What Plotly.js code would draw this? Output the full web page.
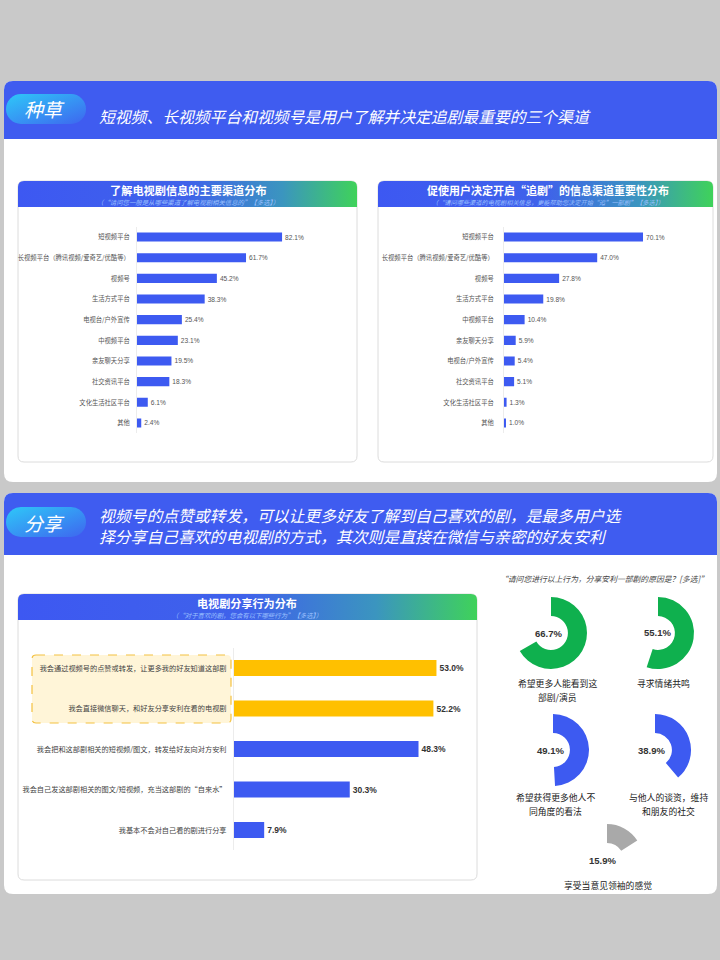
<!DOCTYPE html>
<html><head><meta charset="utf-8">
<script src="https://cdn.plot.ly/plotly-3.0.1.min.js"></script>
<style>html,body{margin:0;padding:0;background:#c9c9c9;}#chart{width:720px;height:960px;}</style>
</head><body><div id="chart"></div>
<script>
// ---------- DATA ----------
const section1Tag = '种草';
const section1Title = '短视频、长视频平台和视频号是用户了解并决定追剧最重要的三个渠道';
const section2Tag = '分享';
const section2Title = ['视频号的点赞或转发，可以让更多好友了解到自己喜欢的剧，是最多用户选', '择分享自己喜欢的电视剧的方式，其次则是直接在微信与亲密的好友安利'];

const chart1Title = '了解电视剧信息的主要渠道分布';
const chart1Sub = '（“请问您一般是从哪些渠道了解电视剧相关信息的”【多选】）';
const channelCats = ['短视频平台','长视频平台（腾讯视频/爱奇艺/优酷等）','视频号','生活方式平台','电视台/户外宣传','中视频平台','亲友聊天分享','社交资讯平台','文化生活社区平台','其他'];
const channelShare = [82.1,61.7,45.2,38.3,25.4,23.1,19.5,18.3,6.1,2.4];

const chart2Title = '促使用户决定开启“追剧”的信息渠道重要性分布';
const chart2Sub = '（“请问哪些渠道的电视剧相关信息，更能帮助您决定开始“追”一部剧”【多选】）';
const decideCats = ['短视频平台','长视频平台（腾讯视频/爱奇艺/优酷等）','视频号','生活方式平台','中视频平台','亲友聊天分享','电视台/户外宣传','社交资讯平台','文化生活社区平台','其他'];
const decideShare = [70.1,47.0,27.8,19.8,10.4,5.9,5.4,5.1,1.3,1.0];

const chart3Title = '电视剧分享行为分布';
const chart3Sub = '（“对于喜欢的剧，您会有以下哪些行为”【多选】）';
const shareCats = ['我会通过视频号的点赞或转发，让更多我的好友知道这部剧','我会直接微信聊天，和好友分享安利在看的电视剧','我会把和这部剧相关的短视频/图文，转发给好友向对方安利','我会自己发这部剧相关的图文/短视频，充当这部剧的“自来水”','我基本不会对自己看的剧进行分享'];
const shareShare = [53.0,52.2,48.3,30.3,7.9];
const shareHighlighted = [true,true,false,false,false];

const reasonQuestion = '“请问您进行以上行为，分享安利一部剧的原因是？[多选]”';
const reasonLabels = ['希望更多人能看到这\n部剧/演员','寻求情绪共鸣','希望获得更多他人不\n同角度的看法','与他人的谈资，维持\n和朋友的社交','享受当意见领袖的感觉'];
const reasonShare = [66.7,55.1,49.1,38.9,15.9];

// ---------- STYLE / LAYOUT HELPERS ----------
const W = 720, H = 960;
const X = p => p / W;
const Y = p => 1 - p / H;
const CJK = '"Noto Sans CJK SC", "Noto Sans", sans-serif';
const LAT = '"Liberation Sans", Arial, sans-serif';
const BLUE = '#3d5af1', GOLD = '#ffc000', GREEN = '#0fb04e', GREY = '#a9a9a9';
const reasonColors = [GREEN, GREEN, BLUE, BLUE, GREY];

function rr(x0, y0, x1, y1, r, topOnly) {
  const rb = topOnly ? 0 : r;
  let p = `M${X(x0 + r)},${Y(y0)} L${X(x1 - r)},${Y(y0)} Q${X(x1)},${Y(y0)} ${X(x1)},${Y(y0 + r)} `;
  p += `L${X(x1)},${Y(y1 - rb)} ` + (rb ? `Q${X(x1)},${Y(y1)} ${X(x1 - rb)},${Y(y1)} ` : '');
  p += `L${X(x0 + rb)},${Y(y1)} ` + (rb ? `Q${X(x0)},${Y(y1)} ${X(x0)},${Y(y1 - rb)} ` : '');
  p += `L${X(x0)},${Y(y0 + r)} Q${X(x0)},${Y(y0)} ${X(x0 + r)},${Y(y0)} Z`;
  return p;
}
function shape(path, fill, line) {
  return Object.assign({type: 'path', xref: 'paper', yref: 'paper', path: path, fillcolor: fill, layer: 'below',
    line: {width: 0}}, line ? {line: line} : {});
}
function svgImg(svg, x0, y0, x1, y1) {
  return {source: 'data:image/svg+xml;charset=utf-8,' + encodeURIComponent(svg), xref: 'paper', yref: 'paper',
    x: X(x0), y: Y(y0), sizex: X(x1) - X(x0), sizey: Y(y0) - Y(y1), xanchor: 'left', yanchor: 'top',
    sizing: 'stretch', layer: 'above'};
}
function headerSvg(w, h) {
  return `<svg xmlns="http://www.w3.org/2000/svg" width="${w}" height="${h}" viewBox="0 0 ${w} ${h}" preserveAspectRatio="none">
  <defs><linearGradient id="g" x1="0" y1="0" x2="1" y2="0">
  <stop offset="0" stop-color="#3d58f2"/><stop offset="0.5" stop-color="#3f62ea"/>
  <stop offset="0.78" stop-color="#3b95bf"/><stop offset="1" stop-color="#3fd25a"/></linearGradient></defs>
  <path d="M0,${h} L0,6 Q0,0 6,0 L${w - 6},0 Q${w},0 ${w},6 L${w},${h} Z" fill="url(#g)"/></svg>`;
}
function badgeSvg(w, h) {
  return `<svg xmlns="http://www.w3.org/2000/svg" width="${w}" height="${h}" viewBox="0 0 ${w} ${h}" preserveAspectRatio="none">
  <defs><linearGradient id="b" x1="0" y1="0" x2="1" y2="1">
  <stop offset="0" stop-color="#2ec8f8"/><stop offset="1" stop-color="#3e66ef"/></linearGradient></defs>
  <rect x="0" y="0" width="${w}" height="${h}" rx="${h / 2}" ry="${h / 2}" fill="url(#b)"/></svg>`;
}
function ann(text, x, y, size, color, opts) {
  return Object.assign({text: text, x: X(x), y: Y(y), xref: 'paper', yref: 'paper', showarrow: false,
    xanchor: 'center', yanchor: 'middle', borderpad: 0, font: {family: CJK, size: size, color: color}}, opts || {});
}

// ---------- SHAPES ----------
const shapes = [
  shape(rr(4, 81, 717, 482, 9), '#ffffff'),
  shape(rr(4, 81, 717, 139, 9, true), '#3f5cf0'),
  shape(rr(4, 493, 717, 894, 9), '#ffffff'),
  shape(rr(4, 493, 717, 555, 9, true), '#3f5cf0'),
  shape(rr(18, 181, 357, 462, 6), '#ffffff', {color: '#dcdcdc', width: 1}),
  shape(rr(378, 181, 713, 462, 6), '#ffffff', {color: '#dcdcdc', width: 1}),
  shape(rr(18, 594, 477, 880, 6), '#ffffff', {color: '#dcdcdc', width: 1}),
  shape(rr(32, 655, 231, 723, 4), '#fff5d8', {color: '#f3c140', width: 1.2, dash: 'dash'})
];

const images = [
  svgImg(badgeSvg(80, 30), 6, 94, 86, 124),
  svgImg(badgeSvg(80, 30), 6, 507, 86, 537),
  svgImg(headerSvg(339, 26), 18, 181, 357, 207),
  svgImg(headerSvg(335, 26), 378, 181, 713, 207),
  svgImg(headerSvg(459, 26), 18, 594, 477, 620)
];

// ---------- ANNOTATIONS ----------
const italic = (size, color) => ({family: CJK, size: size, color: color, style: 'italic'});
const annotations = [
  ann(section1Tag, 44, 109, 19, '#fff', {font: italic(19, '#fff')}),
  ann(section1Title, 98, 116, 15.8, '#fff', {xanchor: 'left', font: italic(15.8, '#fff')}),
  ann(section2Tag, 44, 522, 19, '#fff', {font: italic(19, '#fff')}),
  ann(section2Title[0], 98, 515.5, 15.8, '#fff', {xanchor: 'left', font: italic(15.8, '#fff')}),
  ann(section2Title[1], 98, 536.5, 15.8, '#fff', {xanchor: 'left', font: italic(15.8, '#fff')}),
  ann('<b>' + chart1Title + '</b>', 188, 190, 11.2, '#ffffff'),
  ann(chart1Sub, 188, 202.5, 6.4, '#9cc0ff', {font: italic(6.4, '#9cc0ff')}),
  ann('<b>' + chart2Title + '</b>', 548, 190, 11, '#ffffff'),
  ann(chart2Sub, 548, 202.5, 6.2, '#9cc0ff', {font: italic(6.2, '#9cc0ff')}),
  ann('<b>' + chart3Title + '</b>', 247, 603, 11.1, '#ffffff'),
  ann(chart3Sub, 247, 615.5, 6.4, '#9cc0ff', {font: italic(6.4, '#9cc0ff')}),
  ann(reasonQuestion, 604, 578, 7.8, '#444444', {font: italic(7.8, '#444')})
];

const donutPos = [[551, 633], [658, 633], [553, 750], [655, 750], [607, 860]];
const donutPct = [[548, 633], [657, 632], [550, 750], [651, 750], [602, 860]];
const donutLab = [[557, 683], [663, 683], [555, 797], [668, 797], [608, 885]];
const R = 36;

const traces = [];
reasonShare.forEach((v, i) => {
  const [cx, cy] = donutPos[i];
  traces.push({type: 'pie', values: [v, 100 - v], sort: false, direction: 'clockwise', rotation: 0,
    hole: 0.47, textinfo: 'none', hoverinfo: 'skip', showlegend: false,
    marker: {colors: [reasonColors[i], 'rgba(0,0,0,0)'], line: {width: 0}},
    domain: {x: [X(cx - R), X(cx + R)], y: [Y(cy + R), Y(cy - R)]}});
  annotations.push(ann('<b>' + v.toFixed(1) + '%</b>', donutPct[i][0], donutPct[i][1], 9.5, '#333333',
    {font: {family: LAT, size: 9.5, color: '#333'}}));
  reasonLabels[i].split('\n').forEach((line, k) => {
    annotations.push(ann(line, donutLab[i][0], donutLab[i][1] + 14 * k, 8.8, '#222222'));
  });
});

// ---------- BAR CHARTS ----------
const pct = a => a.map(v => v.toFixed(1) + '%');
traces.push({type: 'bar', orientation: 'h', y: channelCats, x: channelShare, xaxis: 'x', yaxis: 'y',
  marker: {color: BLUE}, width: 0.44, text: pct(channelShare), textposition: 'outside', constraintext: 'none',
  cliponaxis: false, textfont: {family: LAT, size: 6.6, color: '#555'}, hoverinfo: 'skip'});
traces.push({type: 'bar', orientation: 'h', y: decideCats, x: decideShare, xaxis: 'x2', yaxis: 'y2',
  marker: {color: BLUE}, width: 0.44, text: pct(decideShare), textposition: 'outside', constraintext: 'none',
  cliponaxis: false, textfont: {family: LAT, size: 6.6, color: '#555'}, hoverinfo: 'skip'});
traces.push({type: 'bar', orientation: 'h', y: shareCats, x: shareShare, xaxis: 'x3', yaxis: 'y3',
  marker: {color: shareHighlighted.map(h => h ? GOLD : BLUE)}, width: 0.395, text: pct(shareShare).map(t => '<b>' + t + '</b>'),
  textposition: 'outside', constraintext: 'none', cliponaxis: false,
  textfont: {family: LAT, size: 8.5, color: '#333'}, hoverinfo: 'skip'});

const xa = (d, r, anc) => ({domain: d, range: r, anchor: anc, visible: false, showgrid: false, zeroline: false, fixedrange: true});
const ya = (d, size, standoff, anc) => ({domain: d, anchor: anc, type: 'category', autorange: 'reversed', showgrid: false, zeroline: false,
  showline: true, linecolor: '#ececec', linewidth: 1, ticks: '', ticklabelstandoff: standoff,
  tickfont: {family: CJK, size: size, color: '#555'}, fixedrange: true});

const layout = {
  width: W, height: H, margin: {l: 0, r: 0, t: 0, b: 0}, paper_bgcolor: '#c9c9c9', plot_bgcolor: 'rgba(0,0,0,0)',
  showlegend: false, hovermode: false,
  xaxis: xa([X(137), X(350)], [0, 213 / 1.767], 'y'),
  yaxis: ya([Y(433.3), Y(226.7)], 6.3, 5, 'x'),
  xaxis2: xa([X(504), X(706)], [0, 202 / 1.983], 'y2'),
  yaxis2: ya([Y(433.3), Y(226.7)], 6.3, 8, 'x2'),
  xaxis3: xa([X(234), X(470)], [0, 236 / 3.82], 'y3'),
  yaxis3: ya([Y(850.25), Y(647.75)], 7.2, 5, 'x3'),
  shapes: shapes, images: images, annotations: annotations
};
layout.yaxis3.tickfont.color = '#444';

Plotly.newPlot('chart', traces, layout, {staticPlot: true, displayModeBar: false});
</script></body></html>
